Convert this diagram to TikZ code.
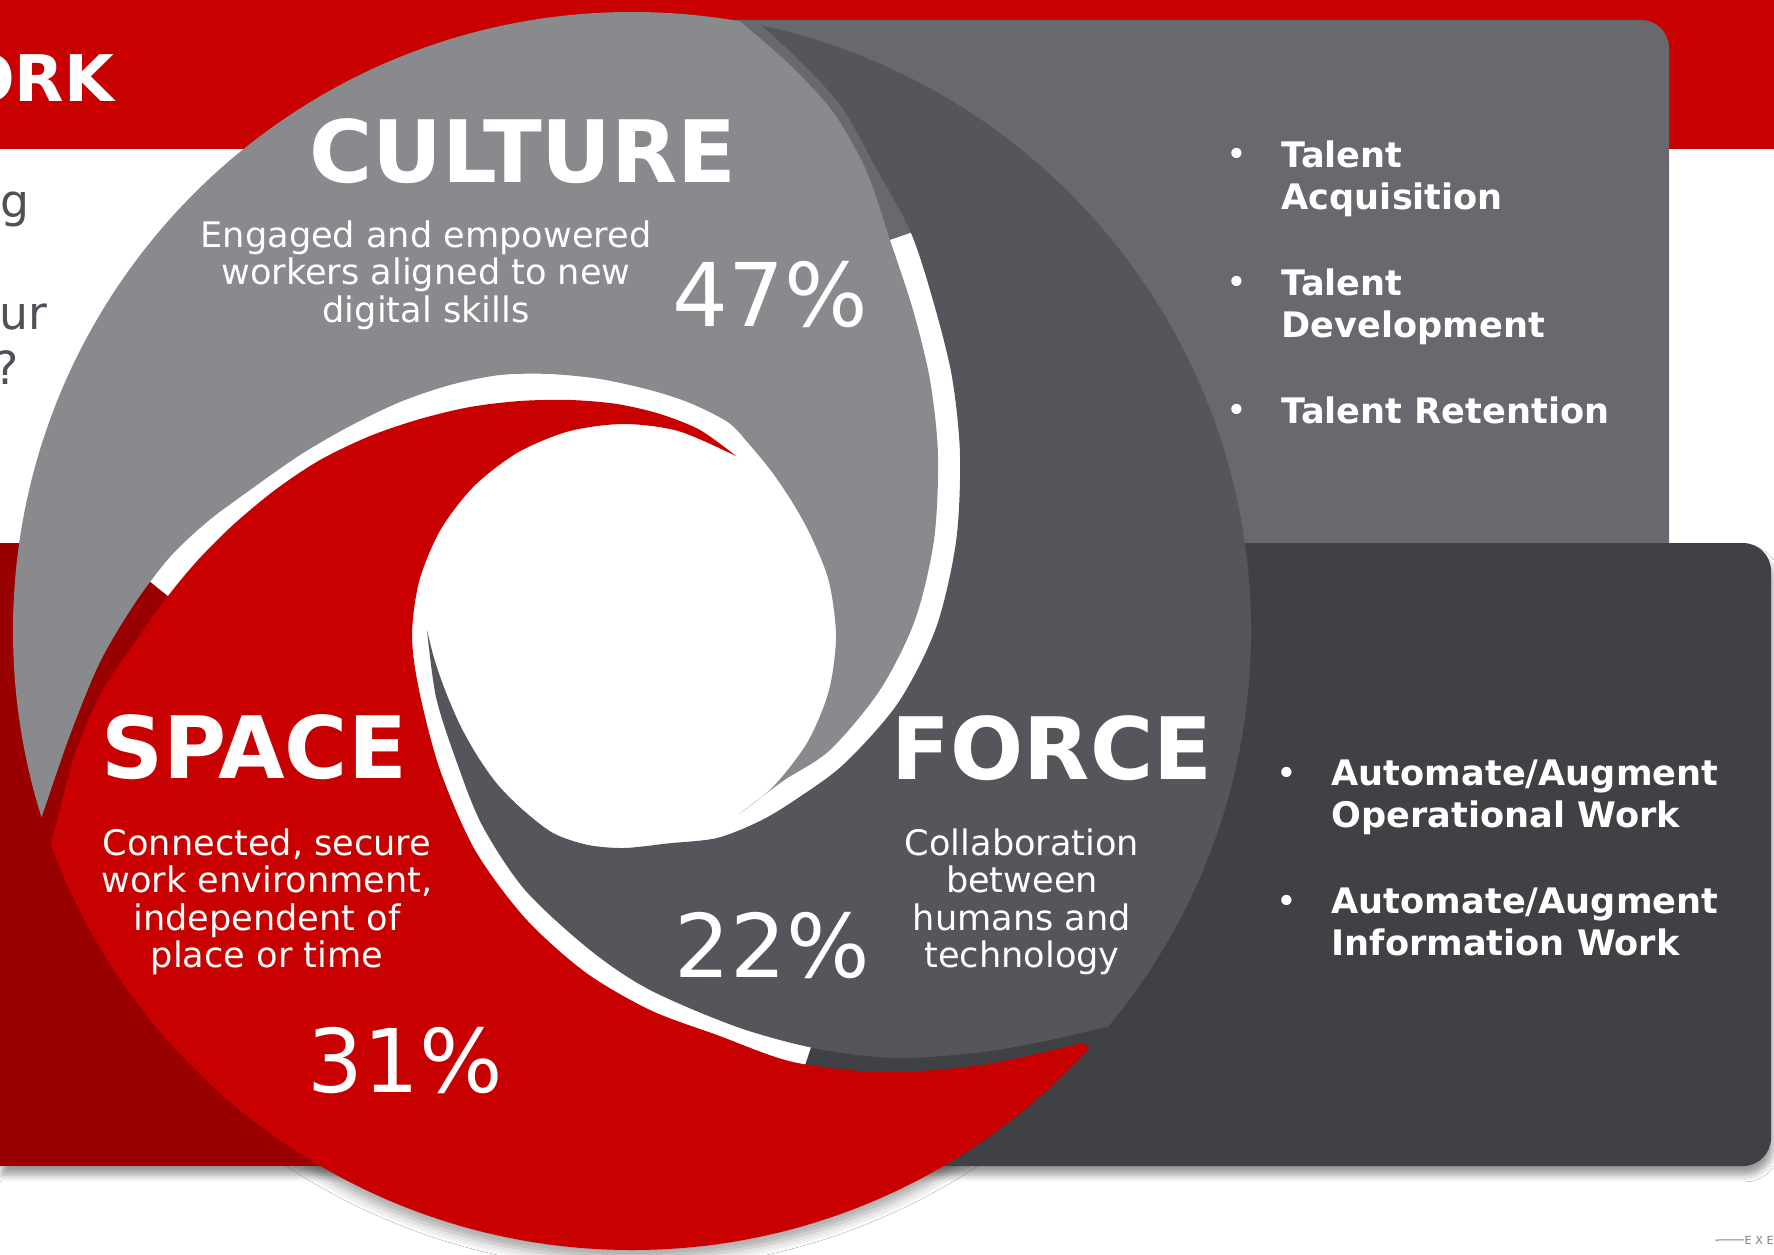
\documentclass[tikz,border=0pt]{standalone}
\usepackage{fontspec}
\setmainfont{DejaVu Sans}
\usepackage{tikz}
\usepackage{xcolor}
\usetikzlibrary{shadows.blur}

\definecolor{topred}{RGB}{200,0,0}
\definecolor{darkred}{RGB}{153,0,0}
\definecolor{culturegray}{RGB}{137,138,142}
\definecolor{forcegray}{RGB}{84,86,91}
\definecolor{boxgray}{RGB}{104,105,110}
\definecolor{darkbox}{RGB}{64,65,69}
\definecolor{textgray}{RGB}{80,80,86}

\begin{document}
\begin{tikzpicture}[x=0.1mm,y=-0.1mm,
    title/.style={text=white,inner sep=0,anchor=base,font=\fontsize{24.5}{28}\selectfont\bfseries},
    pct/.style={text=white,inner sep=0,anchor=base,font=\fontsize{25}{30}\selectfont},
    sub/.style={text=white,inner sep=0,anchor=north,align=center,font=\fontsize{10}{10.67}\selectfont},
    item/.style={text=white,inner sep=0,anchor=north west,align=left,font=\fontsize{10}{12.09}\selectfont\bfseries},
    dot/.style={text=white,inner sep=0,anchor=base,font=\fontsize{10}{12}\selectfont},
    frag/.style={text=textgray,inner sep=0,anchor=base east,font=\fontsize{13}{16}\selectfont},
    softshadow/.style={blur shadow={shadow xshift=0.5pt,shadow yshift=-2.5pt,shadow blur radius=2pt,shadow opacity=40}}]

\useasboundingbox (0,0) rectangle (1774,1255);
\fill[white] (0,0) rectangle (1774,1255);
\begin{scope}
\clip (0,1120) rectangle (1774,1255);
\path[blur shadow={shadow xshift=0pt,shadow yshift=-2.5pt,shadow blur radius=3pt,shadow opacity=35}] (632,631) circle (619);
\end{scope}
\fill[topred] (0,0) rectangle (1774,149);
\fill[boxgray,rounded corners=2.8mm] (640,20) rectangle (1669,620);
\fill[darkbox,rounded corners=2.8mm,softshadow] (600,543) rectangle (1771,1166);
\fill[darkred,softshadow] (0,543) rectangle (700,1166);

\node[text=white,inner sep=0,anchor=base east,font=\fontsize{18.3}{22}\selectfont\bfseries] (ork) at (115,102) {ORK};
\node[frag] (fragg) at (30,218) {g};
\node[frag] (fragur) at (48,330) {ur};
\node[frag] (fragq) at (19,385) {?};

\begin{scope}
\clip (632,631) circle (619);
\fill[white] (624,636) circle (240);
\draw[white,line width=5mm] plot[smooth] coordinates {(890,240) (913,310) (930,380) (938,455) (934,540) (915,620) (880,690) (830,750) (783,781) (739.5,813.8)};
\draw[white,line width=7mm] plot[smooth] coordinates {(168,596) (198,560) (233,525) (275,490) (320,460) (370,436) (420,419) (470,407) (520,401) (570,400) (617,404) (660,414) (700,430) (736.3,456.2)};
\draw[white,line width=6mm] plot[smooth] coordinates {(419.2,690.9) (440,770) (475,850) (525,918) (585,972) (650,1010) (717,1035) (805,1065)};

% culture
\fill[culturegray] (715,-60) -- plot[smooth] coordinates {(725,0) (737,18) (790,65) (833,112) (866,170) (890,240) (913,310) (930,380) (938,455) (934,540) (915,620) (880,690) (830,750) (783,781) (739.5,813.8)}
  -- plot[smooth] coordinates {(739.5,813.8) (773.9,785.9) (807.6,742) (828.8,690.9) (836,636) (828.8,581.1) (811.2,536.5) (793.3,503.8) (771.8,471.8) (748.8,443.8) (728.2,422.4) (690,403) (650,390) (600,379) (550,374) (500,375) (450,385) (400,402) (350,426) (300,455) (250,490) (207,522) (170,557) (135,603) (100,662) (70,735) (43,813) (36,833)}
  -- (-60,840) -- (-60,-60) -- cycle;

% force
\fill[forcegray] (742,-60) -- plot[smooth] coordinates {(742,-10) (757,20) (797,58) (841,106) (875,166) (911,233) (934,304) (952,377) (960,455) (956,542) (936,628) (898,703) (844,764) (795,800) (760,821) (717,838) (668.1,843.4) (624,848) (587.2,844.8) (553,833) (523,810) (498,785) (478,757) (460,725) (445,690) (434,658) (427,630)}
  -- plot[smooth] coordinates {(427,630) (436,697) (456,760) (482,825) (525,890) (590,950) (650,990) (740,1028) (823,1050) (900,1058) (983,1052) (1050,1040) (1105,1027)}
  -- (1300,1110) -- (1400,-60) -- cycle;

% space
\fill[topred] (1083,1043) -- plot[smooth] coordinates {(1083,1043) (983,1065) (883,1072) (793,1062) (717,1035) (650,1010) (585,972) (525,918) (475,850) (440,770) (419.2,690.9) (412,636) (419.2,581.1) (440.4,530) (474.1,486.1) (518,452.4) (569.1,431.2) (624,424) (678.9,431.2) (736.3,456.2)}
  -- plot[smooth] coordinates {(736.3,456.2) (700,430) (660,414) (617,404) (570,400) (520,401) (470,407) (420,419) (370,436) (320,460) (275,490) (233,525) (198,560) (168,596) (135,642) (100,695) (73,760) (52,840) (35,892)}
  -- (-60,900) -- (-60,1400) -- (1250,1400) -- (1250,1190) -- cycle;
\end{scope}

\node[title] (culture) at (523,183) {CULTURE};
\node[sub] (culturesub) at (426,220) {Engaged and empowered\\workers aligned to new\\digital skills};
\node[pct] (culturepct) at (770,327) {47\%};

\node[title] (space) at (254,778) {SPACE};
\node[sub] (spacesub) at (267,828) {Connected, secure\\work environment,\\independent of\\place or time};
\node[pct] (spacepct) at (405,1092) {31\%};

\node[title] (force) at (1052,779) {FORCE};
\node[sub] (forcesub) at (1022,828) {Collaboration\\between\\humans and\\technology};
\node[pct] (forcepct) at (772,977) {22\%};

\node[dot] (dota) at (1237,167) {\textbullet};
\node[item] (itema) at (1281,140) {Talent\\Acquisition};
\node[dot] (dotb) at (1237,295) {\textbullet};
\node[item] (itemb) at (1281,268) {Talent\\Development};
\node[dot] (dotc) at (1237,423) {\textbullet};
\node[item] (itemc) at (1281,396) {Talent Retention};
\node[dot] (dotd) at (1287,785) {\textbullet};
\node[item] (itemd) at (1331,759) {Automate/Augment\\Operational Work};
\node[dot] (dote) at (1287,913) {\textbullet};
\node[item] (iteme) at (1331,887) {Automate/Augment\\Information Work};

\node[text=gray,inner sep=0,anchor=base west,font=\fontsize{3.2}{4}\selectfont] (logo) at (1744,1244) {E X E};
\coordinate (logoline) at (1715,1240);
\draw[gray,line width=0.1mm] (logoline) -- (logo.west);
\end{tikzpicture}
\end{document}
